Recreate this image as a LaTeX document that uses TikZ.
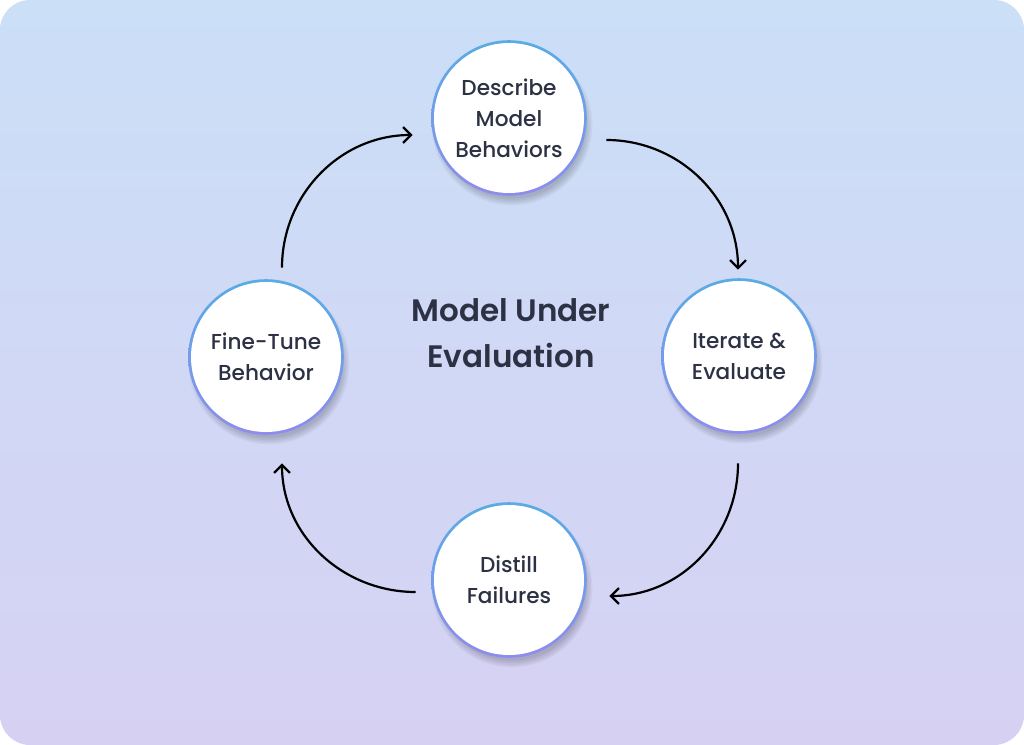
\documentclass[tikz,border=0pt]{standalone}
\usepackage{fontspec}
\setmainfont{Poppins Medium}
\newfontfamily\titlefont{Poppins SemiBold}
\usetikzlibrary{arrows.meta,backgrounds}
\definecolor{bgtop}{RGB}{203,223,247}
\definecolor{bgbot}{RGB}{214,209,243}
\definecolor{ringtop}{RGB}{88,172,228}
\definecolor{ringbot}{RGB}{142,140,238}
\definecolor{inkgrey}{RGB}{44,49,68}
\tikzset{
  stage/.style={circle, fill=white, minimum size=75pt, inner sep=0pt,
    align=center, text=inkgrey, font=\fontsize{10.8}{15.5}\selectfont},
  flow/.style={-{Straight Barb[length=4pt,width=8pt]}, line width=1.1pt, black},
}

\begin{document}
\begin{tikzpicture}[x=0.5pt,y=-0.5pt]
  \useasboundingbox (0,0) rectangle (1024,745);
  % the four stages
  \node[stage] (describe) at (509,118) {Describe\\Model\\Behaviors};
  \node[stage] (iterate)  at (739,356) {Iterate \&\\Evaluate};
  \node[stage] (distill)  at (509,580) {Distill\\Failures};
  \node[stage] (finetune) at (266,357) {Fine-Tune\\Behavior};
  \node[text=inkgrey, align=center, font=\titlefont\fontsize{15.5}{23}\selectfont]
    (model) at (511,333) {Model Under\\Evaluation};
  % background, shadows and rings
  \begin{scope}[on background layer]
    \shade[top color=bgtop, bottom color=bgbot, rounded corners=15pt]
      (0,0) rectangle (1024,745);
    \foreach \n in {describe,iterate,distill,finetune}{
      \foreach \k in {1,...,6}
        \fill[black, opacity=0.035] ([shift={(3,7)}]\n.center) circle[radius={36pt+\k*0.7pt}];
      \shade[top color=ringtop, bottom color=ringbot] (\n.center) circle[radius=38.9pt];
    }
  \end{scope}
  % the cycle
  \draw[flow] ([shift={(22,22)}]describe.east) to[out=0, in=90] ([shift={(-1,-11)}]iterate.north);
  \draw[flow] ([shift={(-1,32)}]iterate.south) to[out=-90, in=0] ([shift={(25,16)}]distill.east);
  \draw[flow] ([shift={(-18,12)}]distill.west) to[out=180, in=-90] ([shift={(16,31)}]finetune.south);
  \draw[flow] ([shift={(16,-14)}]finetune.north) to[out=90, in=180] ([shift={(-21,17)}]describe.west);
\end{tikzpicture}
\end{document}
